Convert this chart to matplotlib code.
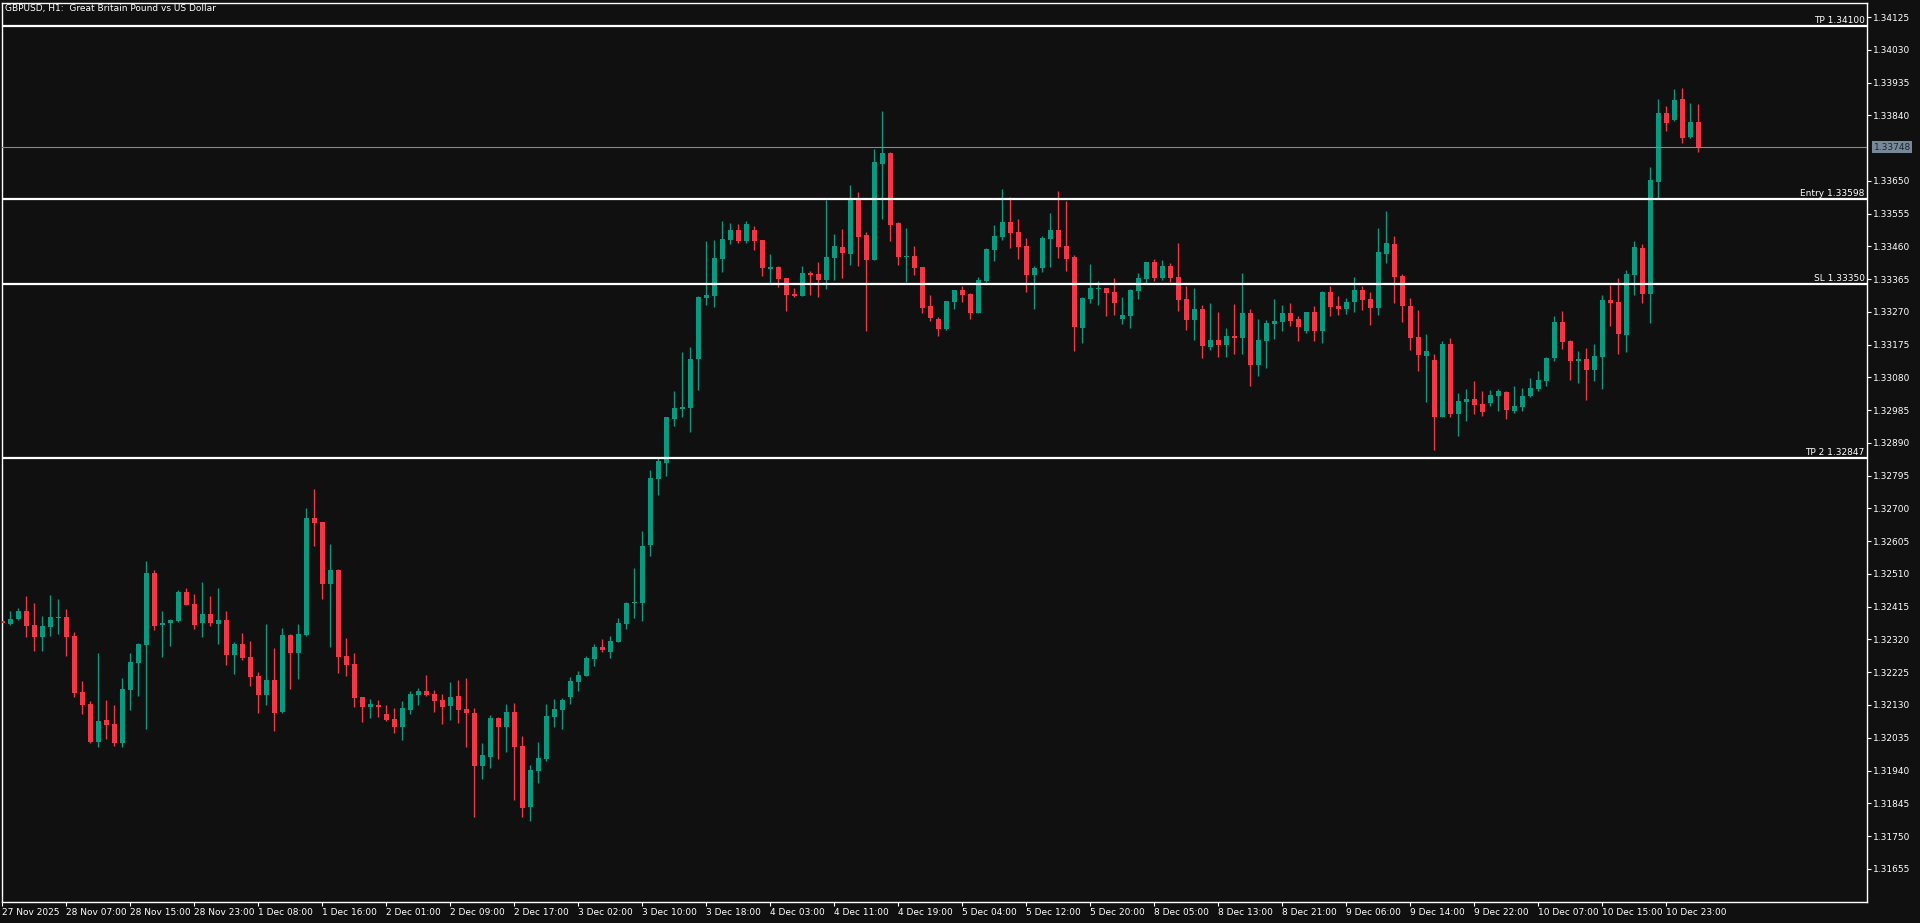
"""
GBPUSD H1 candlestick chart (MT5 style) with TP / Entry / SL levels
output: out.png
"""

import numpy as np
import matplotlib.pyplot as plt
import matplotlib.transforms as mtransforms

# ── 1. data ──────────────────────────────────────────────────────
chart_title = "GBPUSD, H1:  Great Britain Pound vs US Dollar"

opens = [
    1.32374, 1.32366, 1.32379, 1.32403, 1.32362, 1.32328, 1.32357, 1.32383, 1.32385, 1.32330,
    1.32168, 1.32133, 1.32024, 1.32087, 1.32075, 1.32021, 1.32174, 1.32253, 1.32305, 1.32513,
    1.32363, 1.32369, 1.32374, 1.32458, 1.32423, 1.32368, 1.32394, 1.32365, 1.32377, 1.32275,
    1.32307, 1.32269, 1.32214, 1.32159, 1.32203, 1.32110, 1.32333, 1.32281, 1.32333, 1.32672,
    1.32661, 1.32481, 1.32522, 1.32272, 1.32249, 1.32153, 1.32125, 1.32130, 1.32104, 1.32089,
    1.32066, 1.32116, 1.32159, 1.32171, 1.32162, 1.32145, 1.32127, 1.32156, 1.32118, 1.32107,
    1.31953, 1.31979, 1.32092, 1.32066, 1.32110, 1.32011, 1.31834, 1.31939, 1.31973, 1.32095,
    1.32116, 1.32153, 1.32197, 1.32214, 1.32263, 1.32298, 1.32284, 1.32313, 1.32365, 1.32426,
    1.32426, 1.32594, 1.32785, 1.32832, 1.32959, 1.32988, 1.32991, 1.33133, 1.33310, 1.33316,
    1.33423, 1.33479, 1.33508, 1.33476, 1.33508, 1.33479, 1.33394, 1.33400, 1.33368, 1.33322,
    1.33316, 1.33383, 1.33380, 1.33363, 1.33426, 1.33458, 1.33438, 1.33600, 1.33493, 1.33420,
    1.33699, 1.33731, 1.33528, 1.33429, 1.33432, 1.33400, 1.33287, 1.33249, 1.33220, 1.33299,
    1.33334, 1.33322, 1.33267, 1.33360, 1.33450, 1.33487, 1.33531, 1.33502, 1.33461, 1.33377,
    1.33397, 1.33481, 1.33508, 1.33461, 1.33429, 1.33223, 1.33307, 1.33336, 1.33339, 1.33328,
    1.33249, 1.33258, 1.33331, 1.33365, 1.33415, 1.33368, 1.33403, 1.33371, 1.33307, 1.33247,
    1.33278, 1.33168, 1.33189, 1.33174, 1.33200, 1.33194, 1.33267, 1.33116, 1.33186, 1.33235,
    1.33241, 1.33267, 1.33249, 1.33215, 1.33270, 1.33215, 1.33328, 1.33287, 1.33278, 1.33299,
    1.33334, 1.33307, 1.33281, 1.33438, 1.33467, 1.33374, 1.33287, 1.33197, 1.33142, 1.33131,
    1.32965, 1.33177, 1.32974, 1.33009, 1.33017, 1.33003, 1.33006, 1.33026, 1.33038, 1.32983,
    1.32994, 1.33026, 1.33046, 1.33070, 1.33136, 1.33241, 1.33186, 1.33128, 1.33133, 1.33102,
    1.33139, 1.33305, 1.33299, 1.33203, 1.33377, 1.33455, 1.33322, 1.33647, 1.33847, 1.33827,
    1.33888, 1.33777, 1.33821,
]
highs = [
    1.32377, 1.32403, 1.32410, 1.32446, 1.32426, 1.32388, 1.32449, 1.32437, 1.32408, 1.32342,
    1.32200, 1.32141, 1.32281, 1.32145, 1.32130, 1.32208, 1.32281, 1.32310, 1.32548, 1.32522,
    1.32403, 1.32379, 1.32464, 1.32469, 1.32452, 1.32487, 1.32446, 1.32469, 1.32403, 1.32313,
    1.32339, 1.32316, 1.32226, 1.32365, 1.32295, 1.32353, 1.32336, 1.32365, 1.32701, 1.32756,
    1.32662, 1.32597, 1.32524, 1.32324, 1.32281, 1.32153, 1.32147, 1.32145, 1.32130, 1.32121,
    1.32142, 1.32171, 1.32179, 1.32217, 1.32174, 1.32162, 1.32197, 1.32203, 1.32208, 1.32121,
    1.32020, 1.32101, 1.32095, 1.32133, 1.32136, 1.32040, 1.31956, 1.32023, 1.32133, 1.32147,
    1.32150, 1.32211, 1.32229, 1.32272, 1.32307, 1.32321, 1.32330, 1.32382, 1.32429, 1.32527,
    1.32635, 1.32812, 1.32846, 1.32965, 1.33041, 1.33154, 1.33168, 1.33316, 1.33476, 1.33479,
    1.33534, 1.33528, 1.33525, 1.33534, 1.33519, 1.33479, 1.33438, 1.33403, 1.33368, 1.33339,
    1.33403, 1.33389, 1.33415, 1.33595, 1.33496, 1.33510, 1.33638, 1.33618, 1.33502, 1.33742,
    1.33853, 1.33734, 1.33531, 1.33513, 1.33461, 1.33400, 1.33319, 1.33255, 1.33302, 1.33334,
    1.33345, 1.33325, 1.33371, 1.33455, 1.33522, 1.33626, 1.33603, 1.33539, 1.33484, 1.33403,
    1.33490, 1.33557, 1.33621, 1.33592, 1.33435, 1.33313, 1.33409, 1.33360, 1.33339, 1.33368,
    1.33313, 1.33336, 1.33383, 1.33415, 1.33423, 1.33420, 1.33412, 1.33470, 1.33345, 1.33339,
    1.33290, 1.33296, 1.33270, 1.33223, 1.33293, 1.33383, 1.33278, 1.33249, 1.33247, 1.33307,
    1.33290, 1.33296, 1.33258, 1.33270, 1.33287, 1.33331, 1.33345, 1.33316, 1.33310, 1.33371,
    1.33345, 1.33328, 1.33513, 1.33563, 1.33490, 1.33380, 1.33310, 1.33276, 1.33206, 1.33148,
    1.33186, 1.33194, 1.33035, 1.33046, 1.33070, 1.33041, 1.33044, 1.33046, 1.33041, 1.33055,
    1.33049, 1.33078, 1.33099, 1.33139, 1.33258, 1.33273, 1.33189, 1.33157, 1.33165, 1.33177,
    1.33319, 1.33348, 1.33368, 1.33392, 1.33476, 1.33467, 1.33690, 1.33887, 1.33867, 1.33916,
    1.33919, 1.33876, 1.33873,
]
lows = [
    1.32362, 1.32363, 1.32377, 1.32328, 1.32287, 1.32287, 1.32331, 1.32337, 1.32273, 1.32154,
    1.32105, 1.32020, 1.32009, 1.32031, 1.32012, 1.32009, 1.32116, 1.32157, 1.32061, 1.32348,
    1.32270, 1.32302, 1.32371, 1.32420, 1.32351, 1.32327, 1.32359, 1.32307, 1.32246, 1.32220,
    1.32261, 1.32185, 1.32107, 1.32130, 1.32055, 1.32107, 1.32176, 1.32205, 1.32330, 1.32591,
    1.32437, 1.32298, 1.32223, 1.32215, 1.32125, 1.32082, 1.32093, 1.32096, 1.32084, 1.32049,
    1.32029, 1.32104, 1.32130, 1.32156, 1.32110, 1.32075, 1.32087, 1.32078, 1.32008, 1.31805,
    1.31915, 1.31947, 1.31973, 1.31994, 1.31855, 1.31805, 1.31794, 1.31904, 1.31968, 1.32066,
    1.32060, 1.32133, 1.32171, 1.32214, 1.32243, 1.32284, 1.32266, 1.32313, 1.32350, 1.32382,
    1.32374, 1.32562, 1.32739, 1.32794, 1.32939, 1.32965, 1.32922, 1.33044, 1.33290, 1.33284,
    1.33386, 1.33467, 1.33470, 1.33470, 1.33450, 1.33374, 1.33351, 1.33342, 1.33273, 1.33313,
    1.33316, 1.33319, 1.33313, 1.33336, 1.33363, 1.33368, 1.33406, 1.33403, 1.33215, 1.33420,
    1.33539, 1.33476, 1.33406, 1.33357, 1.33377, 1.33267, 1.33244, 1.33200, 1.33218, 1.33278,
    1.33299, 1.33249, 1.33267, 1.33357, 1.33418, 1.33479, 1.33455, 1.33423, 1.33328, 1.33278,
    1.33386, 1.33400, 1.33426, 1.33389, 1.33157, 1.33180, 1.33296, 1.33290, 1.33258, 1.33261,
    1.33235, 1.33223, 1.33307, 1.33351, 1.33360, 1.33363, 1.33357, 1.33273, 1.33218, 1.33189,
    1.33136, 1.33160, 1.33139, 1.33139, 1.33148, 1.33148, 1.33055, 1.33084, 1.33107, 1.33191,
    1.33215, 1.33229, 1.33186, 1.33209, 1.33186, 1.33180, 1.33258, 1.33261, 1.33264, 1.33270,
    1.33276, 1.33232, 1.33261, 1.33412, 1.33296, 1.33241, 1.33160, 1.33099, 1.33009, 1.32870,
    1.32965, 1.32965, 1.32910, 1.32954, 1.32974, 1.32968, 1.32997, 1.32983, 1.32959, 1.32977,
    1.32983, 1.33023, 1.33041, 1.33055, 1.33128, 1.33162, 1.33073, 1.33064, 1.33015, 1.33070,
    1.33046, 1.33229, 1.33148, 1.33154, 1.33319, 1.33296, 1.33238, 1.33597, 1.33795, 1.33824,
    1.33760, 1.33774, 1.33734,
]
closes = [
    1.32368, 1.32379, 1.32403, 1.32360, 1.32328, 1.32359, 1.32385, 1.32385, 1.32328, 1.32166,
    1.32131, 1.32023, 1.32084, 1.32073, 1.32021, 1.32176, 1.32255, 1.32307, 1.32513, 1.32360,
    1.32368, 1.32377, 1.32458, 1.32420, 1.32362, 1.32394, 1.32368, 1.32377, 1.32275, 1.32307,
    1.32266, 1.32211, 1.32159, 1.32203, 1.32107, 1.32333, 1.32281, 1.32336, 1.32672, 1.32658,
    1.32481, 1.32522, 1.32269, 1.32247, 1.32151, 1.32125, 1.32133, 1.32125, 1.32087, 1.32066,
    1.32121, 1.32162, 1.32171, 1.32159, 1.32142, 1.32124, 1.32153, 1.32116, 1.32107, 1.31953,
    1.31985, 1.32092, 1.32066, 1.32110, 1.32008, 1.31831, 1.31942, 1.31976, 1.32098, 1.32118,
    1.32145, 1.32200, 1.32217, 1.32266, 1.32298, 1.32290, 1.32316, 1.32368, 1.32426, 1.32429,
    1.32591, 1.32788, 1.32838, 1.32965, 1.32991, 1.32994, 1.33133, 1.33313, 1.33319, 1.33426,
    1.33481, 1.33508, 1.33476, 1.33525, 1.33476, 1.33397, 1.33400, 1.33365, 1.33319, 1.33316,
    1.33383, 1.33377, 1.33363, 1.33429, 1.33461, 1.33441, 1.33600, 1.33487, 1.33420, 1.33705,
    1.33731, 1.33522, 1.33429, 1.33432, 1.33397, 1.33281, 1.33252, 1.33220, 1.33302, 1.33334,
    1.33319, 1.33267, 1.33363, 1.33452, 1.33490, 1.33531, 1.33499, 1.33458, 1.33377, 1.33397,
    1.33484, 1.33508, 1.33458, 1.33423, 1.33226, 1.33310, 1.33339, 1.33339, 1.33325, 1.33296,
    1.33261, 1.33334, 1.33368, 1.33415, 1.33368, 1.33403, 1.33368, 1.33305, 1.33247, 1.33278,
    1.33171, 1.33189, 1.33174, 1.33200, 1.33194, 1.33267, 1.33116, 1.33189, 1.33238, 1.33244,
    1.33267, 1.33244, 1.33226, 1.33270, 1.33215, 1.33328, 1.33284, 1.33278, 1.33299, 1.33334,
    1.33305, 1.33281, 1.33444, 1.33470, 1.33371, 1.33287, 1.33194, 1.33145, 1.33157, 1.32965,
    1.33177, 1.32974, 1.33012, 1.33017, 1.33000, 1.32980, 1.33029, 1.33041, 1.32986, 1.32997,
    1.33026, 1.33049, 1.33073, 1.33136, 1.33241, 1.33183, 1.33128, 1.33133, 1.33102, 1.33142,
    1.33305, 1.33296, 1.33206, 1.33380, 1.33458, 1.33322, 1.33653, 1.33847, 1.33818, 1.33885,
    1.33774, 1.33821, 1.33748,
]

# one label every 8 bars
time_labels = [
    "27 Nov 2025", "28 Nov 07:00", "28 Nov 15:00", "28 Nov 23:00", "1 Dec 08:00",
    "1 Dec 16:00", "2 Dec 01:00", "2 Dec 09:00", "2 Dec 17:00", "3 Dec 02:00",
    "3 Dec 10:00", "3 Dec 18:00", "4 Dec 03:00", "4 Dec 11:00", "4 Dec 19:00",
    "5 Dec 04:00", "5 Dec 12:00", "5 Dec 20:00", "8 Dec 05:00", "8 Dec 13:00",
    "8 Dec 21:00", "9 Dec 06:00", "9 Dec 14:00", "9 Dec 22:00", "10 Dec 07:00",
    "10 Dec 15:00", "10 Dec 23:00",
]

price_ticks = [
    1.34125, 1.34030, 1.33935, 1.33840, 1.33650, 1.33555, 1.33460, 1.33365, 1.33270,
    1.33175, 1.33080, 1.32985, 1.32890, 1.32795, 1.32700, 1.32605, 1.32510, 1.32415,
    1.32320, 1.32225, 1.32130, 1.32035, 1.31940, 1.31845, 1.31750, 1.31655,
]

level_names = ["TP", "Entry", "SL", "TP 2"]
level_prices = [1.34100, 1.33598, 1.33350, 1.32847]
last_price = 1.33748

# ── 2. drawing ───────────────────────────────────────────────────
BG = "#101010"
UP = "#089981"
DOWN = "#F23645"
FG = "#FFFFFF"
FONT = "DejaVu Sans"

o = np.array(opens)
h = np.array(highs)
l = np.array(lows)
c = np.array(closes)
x = np.arange(len(o))
colors = np.where(c >= o, UP, DOWN)

W, H = 1920, 923
fig = plt.figure(figsize=(W / 100, H / 100), dpi=100, facecolor=BG)
ax = fig.add_axes([2 / W, (H - 902) / H, 1865 / W, 899.5 / H], facecolor=BG)

ax.vlines(x, l, h, colors=colors, linewidth=1.0, zorder=2)
body_h = np.maximum(np.abs(c - o), 0.00003)
ax.bar(x, body_h, bottom=np.minimum(o, c), width=0.62, color=colors,
       linewidth=0, zorder=3)

ax.set_xlim(-0.04, 233.09)
ax.set_ylim(1.315587, 1.341672)

# level lines
trans = mtransforms.blended_transform_factory(ax.transAxes, ax.transData)
for name, p in zip(level_names, level_prices):
    ax.axhline(p, color=FG, linewidth=1.6, zorder=4)
    ax.text(0.9988, p + 0.00003, f"{name} {p:.5f}", transform=trans, ha="right",
            va="bottom", fontsize=6.5, color=FG, family=FONT, zorder=5)

ax.axhline(last_price, color="#7d8b99", linewidth=0.8, zorder=4)
ax.text(1.0035, last_price, f"{last_price:.5f}", transform=trans, ha="left",
        va="center", fontsize=6.5, color="#1c2630", family=FONT, clip_on=False,
        bbox=dict(boxstyle="square,pad=0.18", fc="#778899", ec="none"))

# axes styling
for sp in ax.spines.values():
    sp.set_color(FG)
    sp.set_linewidth(1.0)

ax.yaxis.tick_right()
ax.set_yticks(price_ticks)
ax.set_yticklabels([f"{t:.5f}" for t in price_ticks])
ax.tick_params(axis="y", colors=FG, labelcolor=FG, labelsize=6.5, length=3,
               width=0.8, pad=1.5, direction="out")

ax.set_xticks(np.arange(len(time_labels)) * 8)
ax.set_xticklabels(time_labels)
ax.tick_params(axis="x", colors=FG, labelcolor=FG, labelsize=6.5, length=3,
               width=0.8, pad=1.5, direction="out")
for lbl in ax.get_xticklabels() + ax.get_yticklabels():
    lbl.set_family(FONT)
for lbl in ax.get_xticklabels():
    lbl.set_ha("left")

fig.text(5 / W, 1 - 8 / H, chart_title, ha="left", va="center", fontsize=6.5,
         color=FG, family=FONT)

plt.savefig("out.png", dpi=100, facecolor=BG)
print("saved: out.png")
